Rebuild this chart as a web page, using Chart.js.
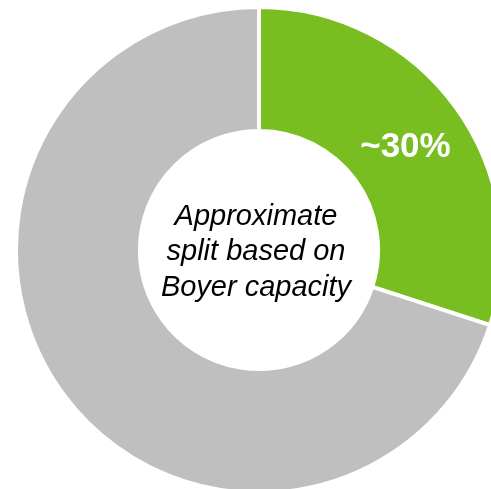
<!DOCTYPE html>
<html>
<head>
<meta charset="utf-8">
<script src="https://cdn.jsdelivr.net/npm/chart.js@4"></script>
<style>
  html, body { margin: 0; padding: 0; background: #fff; overflow: hidden; width: 491px; height: 489px; }
  #wrap { position: absolute; left: 14px; top: 5px; width: 490px; height: 490px; }
</style>
</head>
<body>
<div id="wrap"><canvas id="c" width="490" height="490"></canvas></div>
<script>
const categories = ['Share', 'Remainder'];
const shareValues = [30, 70];
const sliceLabels = ['~30%', ''];
const centerLines = ['Approximate', 'split based on', 'Boyer capacity'];
const sliceColors = ['#78BE20', '#BFBFBF'];

const labelsPlugin = {
  id: 'donutText',
  afterDatasetsDraw(chart) {
    const ctx = chart.ctx;
    const meta = chart.getDatasetMeta(0);
    ctx.save();
    // value labels on the slices
    meta.data.forEach((arc, i) => {
      if (!sliceLabels[i]) return;
      const p = arc.tooltipPosition();
      ctx.font = 'bold 35px "Liberation Sans", Arial, sans-serif';
      ctx.fillStyle = '#ffffff';
      ctx.textAlign = 'center';
      ctx.textBaseline = 'middle';
      ctx.fillText(sliceLabels[i], p.x, p.y + 4);
    });
    // caption in the hole
    const a = meta.data[0];
    ctx.font = 'italic 29px "Liberation Sans", Arial, sans-serif';
    ctx.fillStyle = '#000000';
    ctx.textAlign = 'center';
    ctx.textBaseline = 'alphabetic';
    const spacing = 35.5;
    centerLines.forEach((line, i) => {
      ctx.fillText(line, a.x - 3, a.y - 25.5 + i * spacing);
    });
    ctx.restore();
  }
};

new Chart(document.getElementById('c'), {
  type: 'doughnut',
  data: {
    labels: categories,
    datasets: [{
      data: shareValues,
      backgroundColor: sliceColors,
      borderColor: '#ffffff',
      borderWidth: 4,
      hoverOffset: 0
    }]
  },
  options: {
    responsive: false,
    animation: false,
    cutout: '49%',
    layout: { padding: 0 },
    plugins: {
      legend: { display: false },
      tooltip: { enabled: false }
    }
  },
  plugins: [labelsPlugin]
});
</script>
</body>
</html>
